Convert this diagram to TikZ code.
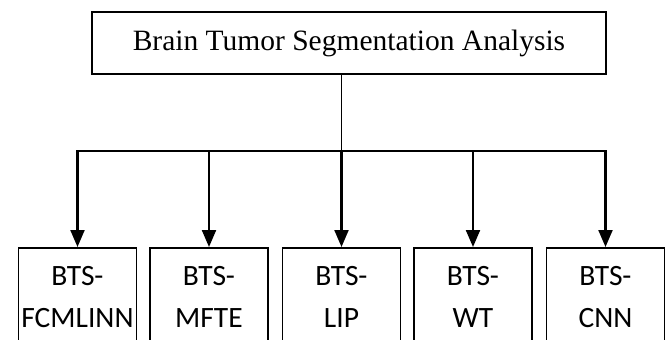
\documentclass[tikz,border=0pt]{standalone}
\usepackage{fontspec}
\setmainfont{Liberation Serif}
\newfontfamily\carlito{Carlito}
\usetikzlibrary{arrows.meta}
\newcommand{\topfont}{\fontsize{29.5}{34}\selectfont}
\newcommand{\boxfont}{\carlito\fontsize{29.5}{42}\selectfont}
\tikzset{
  topbox/.style={draw, line width=1.5pt, minimum width=514pt, minimum height=62pt, inner sep=0pt, font=\topfont},
  leafbox/.style={draw, line width=1.5pt, anchor=north, minimum width=118pt, minimum height=99pt, inner sep=0pt, align=center, font=\boxfont},
  thinconn/.style={line width=1.4pt},
  conn/.style={line width=2.1pt},
  arr/.style={conn, -{Triangle[width=14pt,length=17pt]}}
}
\begin{document}
\begin{tikzpicture}[x=1pt,y=-1pt]
\useasboundingbox (0,0) rectangle (665,340);
\clip (0,0) rectangle (665,340);
\fill[white] (0,0) rectangle (665,340);
\node[topbox] (top) at (349,43) {Brain Tumor Segmentation Analysis};
\node[leafbox] (b1) at (77.5,247) {BTS-\\FCMLINN};
\node[leafbox] (b2) at (209,247) {BTS-\\MFTE};
\node[leafbox] (b3) at (341.5,247) {BTS-\\LIP};
\node[leafbox] (b4) at (473,247) {BTS-\\WT};
\node[leafbox] (b5) at (605.5,247) {BTS-\\CNN};
\coordinate (bus) at (0,151);
\draw[thinconn] (top.south -| b3.north) -- (b3.north |- bus);
\draw[arr] (b3.north |- bus) -- (b3.north);
\draw[conn] ([xshift=-1.05pt]b1.north |- bus) -- ([xshift=1.05pt]b5.north |- bus);
\draw[arr] (b1.north |- bus) -- (b1.north);
\draw[arr] (b2.north |- bus) -- (b2.north);
\draw[arr] (b4.north |- bus) -- (b4.north);
\draw[arr] (b5.north |- bus) -- (b5.north);
\end{tikzpicture}
\end{document}
